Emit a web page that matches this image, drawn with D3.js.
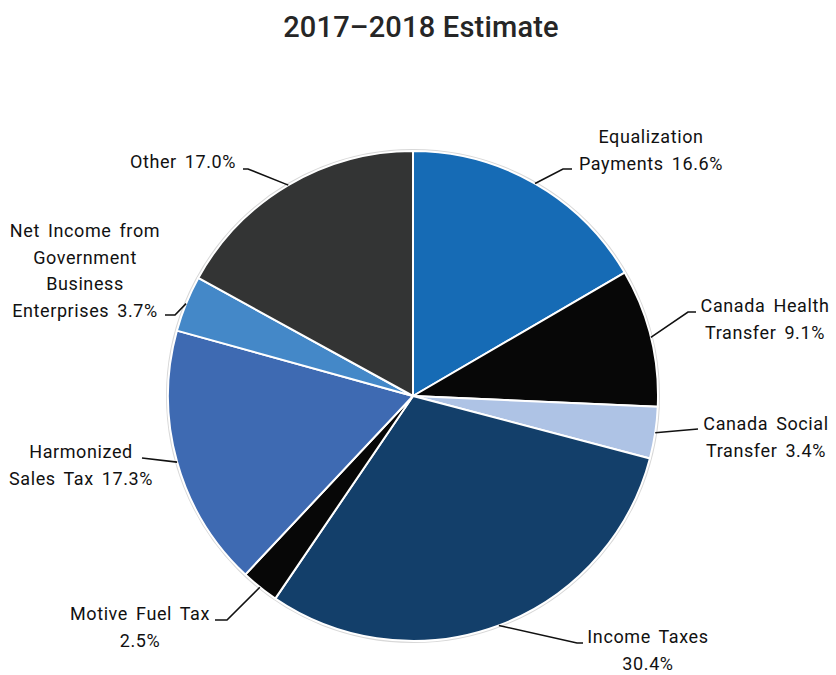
<!DOCTYPE html>
<html>
<head>
<meta charset="utf-8">
<script src="https://cdn.jsdelivr.net/npm/d3@7"></script>
<style>
body { margin: 0; background: #fff; }
text { font-family: Roboto, "Noto Sans", sans-serif; fill: #111; }
</style>
</head>
<body>
<svg id="chart" width="836" height="675"></svg>
<script>
// revenue shares, clockwise from 12 o'clock
var categories = ["Equalization Payments", "Canada Health Transfer", "Canada Social Transfer",
  "Income Taxes", "Motive Fuel Tax", "Harmonized Sales Tax",
  "Net Income from Government Business Enterprises", "Other"];
var shares = [16.6, 9.1, 3.4, 30.4, 2.5, 17.3, 3.7, 17.0];
var colours = ["#166bb5", "#070707", "#aec3e5", "#133f6a", "#070707", "#3e6ab2", "#4488c8", "#333434"];
// label lines as they wrap in the picture
var labelLines = [
  ["Equalization", "Payments 16.6%"],
  ["Canada Health", "Transfer 9.1%"],
  ["Canada Social", "Transfer 3.4%"],
  ["Income Taxes", "30.4%"],
  ["Motive Fuel Tax", "2.5%"],
  ["Harmonized", "Sales Tax 17.3%"],
  ["Net Income from", "Government", "Business", "Enterprises 3.7%"],
  ["Other 17.0%"]
];
// label layout: elbow of leader, end of leader, text centre x, first baseline
var labelPos = [
  {ex: 563, ey: 169, hx: 572, tx: 651, ty: 143},
  {ex: 688, ey: 312, hx: 696, tx: 765, ty: 312},
  {ex: 698, ey: 429, hx: 698, tx: 766, ty: 430},
  {ex: 577, ey: 643, hx: 583, tx: 648, ty: 643},
  {ex: 227, ey: 620, hx: 215, tx: 140, ty: 620},
  {ex: 142, ey: 458, hx: 142, tx: 81, ty: 458},
  {ex: 175, ey: 315, hx: 165, tx: 85, ty: 237},
  {ex: 248, ey: 169, hx: 243, tx: 183, ty: 168}
];

var svg = d3.select("#chart");
var cx = 413, cy = 396, r = 245;

svg.append("text")
.text("2017\u20132018 Estimate")
.attr("x", 421)
.attr("y", 37)
.attr("text-anchor", "middle")
.attr("font-size", 29)
.attr("font-weight", 500)
.style("letter-spacing", "0.2px")
.style("fill", "#262626");

var data = shares.map(function (v, i) { return {name: categories[i], value: v, i: i}; });

var pie = d3.pie().sort(null).value(function (d) { return d.value; });
var arc = d3.arc().innerRadius(0).outerRadius(r);

var g = svg.append("g").attr("transform", "translate(" + cx + "," + cy + ")");

// faint rim round the pie
g.append("circle")
.attr("r", r + 1)
.style("fill", "none")
.style("stroke", "#d8d8d8")
.style("stroke-width", 2);

var arcs = pie(data);

g.selectAll("path.slice")
.data(arcs)
.enter()
.append("path")
.attr("class", "slice")
.attr("d", arc)
.style("fill", function (d) { return colours[d.data.i]; })
.style("stroke", "#fff")
.style("stroke-width", 2)
.style("stroke-linejoin", "round");

// leader lines start on the rim at the middle of each slice
arcs.forEach(function (d) {
  var p = labelPos[d.data.i];
  var a = (d.startAngle + d.endAngle) / 2;
  var sx = cx + r * Math.sin(a), sy = cy - r * Math.cos(a);
  svg.append("polyline")
  .attr("points", [[sx, sy], [p.ex, p.ey], [p.hx, p.ey]].join(" "))
  .style("fill", "none")
  .style("stroke", "#111")
  .style("stroke-width", 1.6);

  var t = svg.append("text")
  .attr("x", p.tx)
  .attr("y", p.ty)
  .attr("text-anchor", "middle")
  .attr("font-size", 18)
  .style("letter-spacing", "0.6px")
  .style("word-spacing", "3px");
  labelLines[d.data.i].forEach(function (line, k) {
    t.append("tspan")
    .attr("x", p.tx)
    .attr("dy", k == 0 ? 0 : 26.5)
    .text(line);
  });
});
</script>
</body>
</html>
